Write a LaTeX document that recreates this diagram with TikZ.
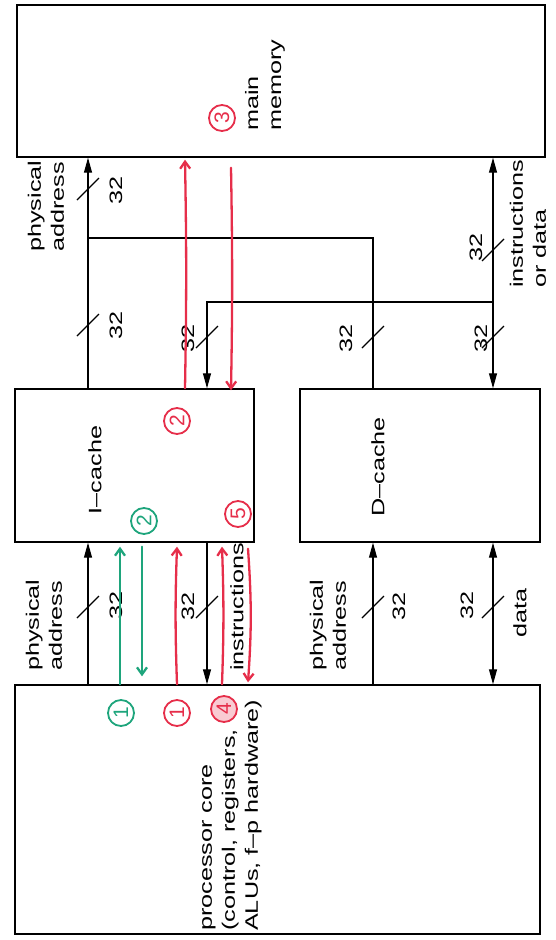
\documentclass[tikz,border=0pt]{standalone}
\usepackage{fontspec}
\setmainfont{Liberation Sans}
\newfontfamily\labelfont[FakeStretch=1.4,Ligatures=TeX]{Liberation Sans}
\usetikzlibrary{arrows.meta,calc,positioning}
\definecolor{inkred}{HTML}{E62E4A}
\definecolor{inkgreen}{HTML}{1EA57C}
\tikzset{
  box/.style={draw,line width=1.4pt,inner sep=0pt},
  wire/.style={line width=1.1pt},
  busarrow/.style={wire,-{Triangle[length=15pt,width=8pt]}},
  dualarrow/.style={wire,{Triangle[length=15pt,width=8pt]}-{Triangle[length=15pt,width=8pt]}},
  lbl/.style={rotate=90,align=left,inner sep=0pt,font=\labelfont\fontsize{18}{23}\selectfont},
  num/.style={rotate=90,inner sep=0pt,font=\labelfont\fontsize{18}{20}\selectfont},
  redpen/.style={inkred,line width=2.3pt,line cap=round},
  greenpen/.style={inkgreen,line width=2.3pt,line cap=round},
  pentip/.style={-{Straight Barb[length=7pt,width=10pt]}},
  circled/.style={circle,draw,line width=1.8pt,inner sep=0pt,minimum size=26pt,rotate=90,font=\fontsize{21}{21}\selectfont},
  busmark/.pic={\draw[wire] (-11,11) -- (11,-11);}
}
\begin{document}
\begin{tikzpicture}[x=1pt,y=-1pt]
  \useasboundingbox (0,0) rectangle (555,940);
  % blocks
  \node[box,minimum width=528pt,minimum height=152pt] (mem) at (281,81) {};
  \node[box,minimum width=239pt,minimum height=153pt] (icache) at (134.5,465.5) {};
  \node[box,minimum width=240pt,minimum height=153pt] (dcache) at (420,465.5) {};
  \node[box,minimum width=525pt,minimum height=249pt] (core) at (277.5,809.5) {};
  \node[lbl,anchor=west] (memlbl) at (265,131) {main\\memory};
  \node[lbl] (iclbl) at (95,470) {I--cache};
  \node[lbl] (dclbl) at (378,467) {D--cache};
  \node[lbl,anchor=west] (corelbl) at (232,931) {processor core\\(control, registers,\\ALUs, f--p hardware)};
  % bus columns and branch rows
  \coordinate (colA) at (88,0);
  \coordinate (colB) at (207,0);
  \coordinate (colC) at (373,0);
  \coordinate (colD) at (493,0);
  \coordinate (rowA) at (0,238);
  \coordinate (rowB) at (0,302);
  % cache <-> memory
  \draw[busarrow] (icache.north -| colA) -- (mem.south -| colA);
  \draw[wire] (colA |- rowA) -- (colC |- rowA) -- (dcache.north -| colC);
  \draw[dualarrow] (dcache.north -| colD) -- (mem.south -| colD);
  \draw[busarrow] (colD |- rowB) -- (colB |- rowB) -- (icache.north -| colB);
  % core <-> cache
  \draw[busarrow] (core.north -| colA) -- (icache.south -| colA);
  \draw[busarrow] (icache.south -| colB) -- (core.north -| colB);
  \draw[busarrow] (core.north -| colC) -- (dcache.south -| colC);
  \draw[dualarrow] (core.north -| colD) -- (dcache.south -| colD);
  % bus widths
  \foreach \bx/\by in {88/189,88/325,207/337,373/337,493/337,493/250,88/607,207/607,373/607,493/607}
    \pic at (\bx,\by) {busmark};
  \node[num] (w1) at (116,190) {32};
  \node[num] (w2) at (116,325) {32};
  \node[num] (w3) at (188,338) {32};
  \node[num] (w4) at (346,338) {32};
  \node[num] (w5) at (481,338) {32};
  \node[num] (w6) at (476,247) {32};
  \node[num] (w7) at (116,605) {32};
  \node[num] (w8) at (188,606) {32};
  \node[num] (w9) at (399,606) {32};
  \node[num] (w10) at (467,605) {32};
  \node[lbl,anchor=west] (pa1) at (46,252) {physical\\address};
  \node[lbl,anchor=west] (iod) at (528,288) {instructions\\or data};
  \node[lbl,anchor=west] (pa2) at (44,671) {physical\\address};
  \node[lbl,anchor=west] (ins) at (237,671) {instructions};
  \node[lbl,anchor=west] (pa3) at (328,671) {physical\\address};
  \node[lbl] (dat) at (520,613) {data};
  % pen annotations
  \coordinate (penA) at (120,0);
  \coordinate (penB) at (142,0);
  \coordinate (penC) at (177,0);
  \coordinate (penD) at (222,0);
  \coordinate (penE) at (248,0);
  \coordinate (penF) at (185,0);
  \coordinate (penG) at (231,0);
  \draw[greenpen,pentip] (core.north -| penA) -- ([yshift=-4pt]icache.south -| penA);
  \draw[greenpen,pentip] ([yshift=-4pt]icache.south -| penB) -- ([yshift=8pt]core.north -| penB);
  \draw[redpen,pentip] (core.north -| penC) to[bend left=2] ([yshift=-4pt]icache.south -| penC);
  \draw[redpen,pentip] (core.north -| penD) to[bend right=2] ([yshift=-4pt]icache.south -| penD);
  \draw[redpen,pentip] ([yshift=-6pt]icache.south -| penE) to[bend left=4] ([yshift=2pt]core.north -| penE);
  \draw[redpen,pentip] (icache.north -| penF) to[bend right=1] ([yshift=-2pt]mem.south -| penF);
  \draw[redpen,pentip] ([yshift=-10pt]mem.south -| penG) to[bend left=1] ([yshift=-2pt]icache.north -| penG);
  \node[circled,inkgreen] (g1) at (121,713) {1};
  \node[circled,inkred] (r1) at (177,713) {1};
  \node[circled,inkred,fill=inkred!25] (r4) at (224,709) {4};
  \node[circled,inkred] (r2) at (177,421) {2};
  \node[circled,inkred] (r5) at (238,514) {5};
  \node[circled,inkgreen] (g2) at (144,521) {2};
  \node[circled,inkred] (r3) at (222,118) {3};
\end{tikzpicture}
\end{document}
